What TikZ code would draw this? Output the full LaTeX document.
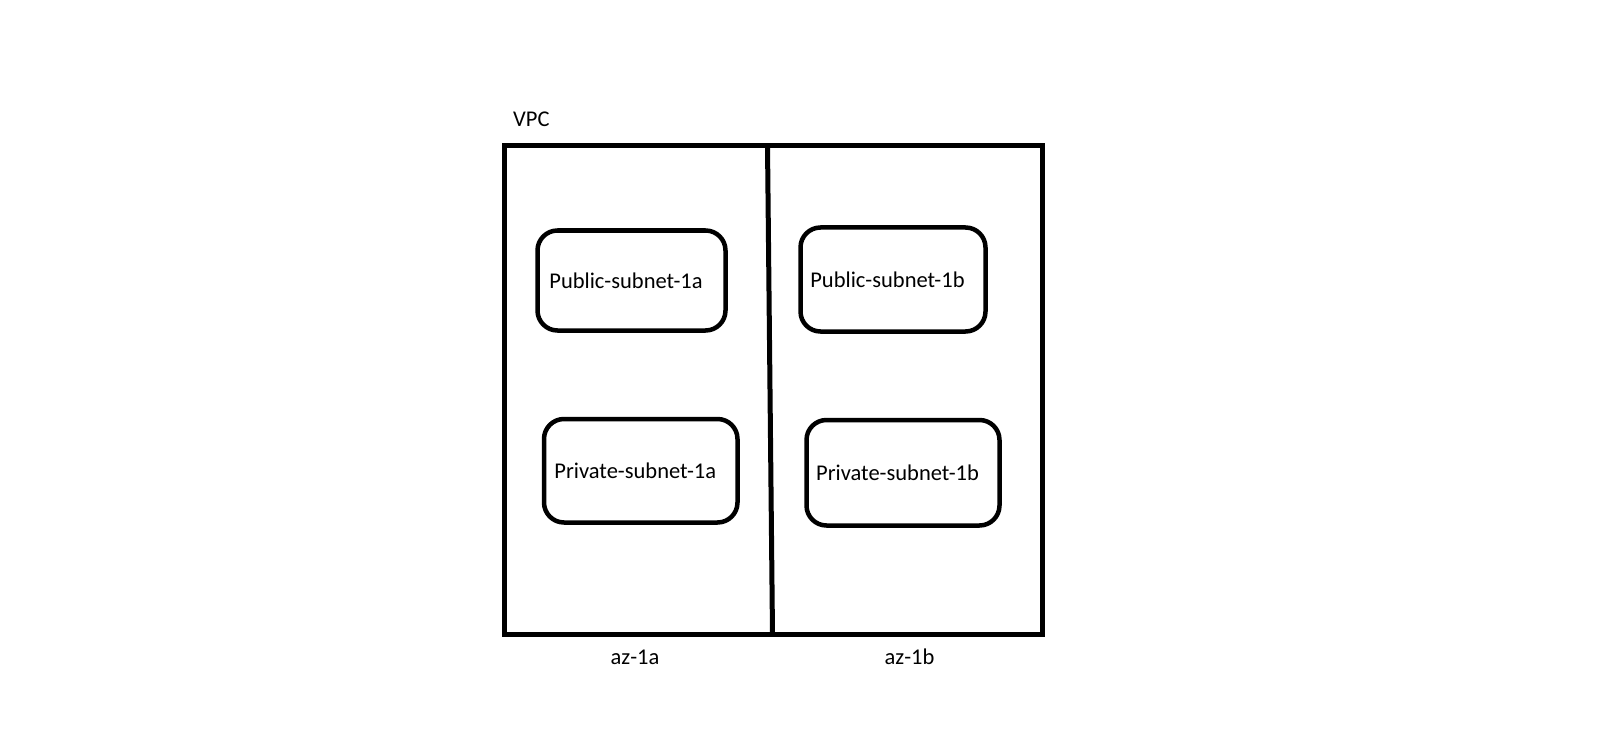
\documentclass[tikz,border=0pt]{standalone}
\usepackage{fontspec}
\setmainfont{Carlito}

\begin{document}
\begin{tikzpicture}[x=1pt, y=-1pt,
    every node/.style={font=\fontsize{22.5}{26}\selectfont},
    zone/.style={draw, line width=5pt, inner sep=0pt, outer sep=0pt},
    subnet/.style={draw, line width=4.5pt, rounded corners=20pt, inner sep=0pt, outer sep=0pt,
        execute at end node={\hspace{11pt}}}]

    % Fix the canvas to the size of the image
    \useasboundingbox (0,0) rectangle (1622,738);

    % Points on the VPC border where the az divider meets it
    \coordinate (divtop) at (767.5,145.5);
    \coordinate (divbot) at (772.5,634.5);

    % The VPC box and the divider between the two zones
    \node[zone, minimum width=538pt, minimum height=489pt] (vpc) at (773.5,390) {};
    \draw[line width=5pt] (divtop) -- (divbot);

    % Subnets (centre, width and height)
    \node[subnet, minimum width=188pt, minimum height=100pt] (pub1a) at (631.5,280.5) {Public-subnet-1a};
    \node[subnet, minimum width=185pt, minimum height=104pt] (pub1b) at (893,279.5) {Public-subnet-1b};
    \node[subnet, minimum width=193.5pt, minimum height=103.5pt] (priv1a) at (640.75,470.75) {Private-subnet-1a};
    \node[subnet, minimum width=193pt, minimum height=105.5pt] (priv1b) at (903,472.75) {Private-subnet-1b};

    % Labels
    \node[anchor=base west, inner sep=0pt] (vpclabel) at (513,127) {VPC};
    \node[anchor=base, inner sep=0pt] (az1a) at (635,664) {az-1a};
    \node[anchor=base, inner sep=0pt] (az1b) at (909.5,664) {az-1b};

\end{tikzpicture}
\end{document}
